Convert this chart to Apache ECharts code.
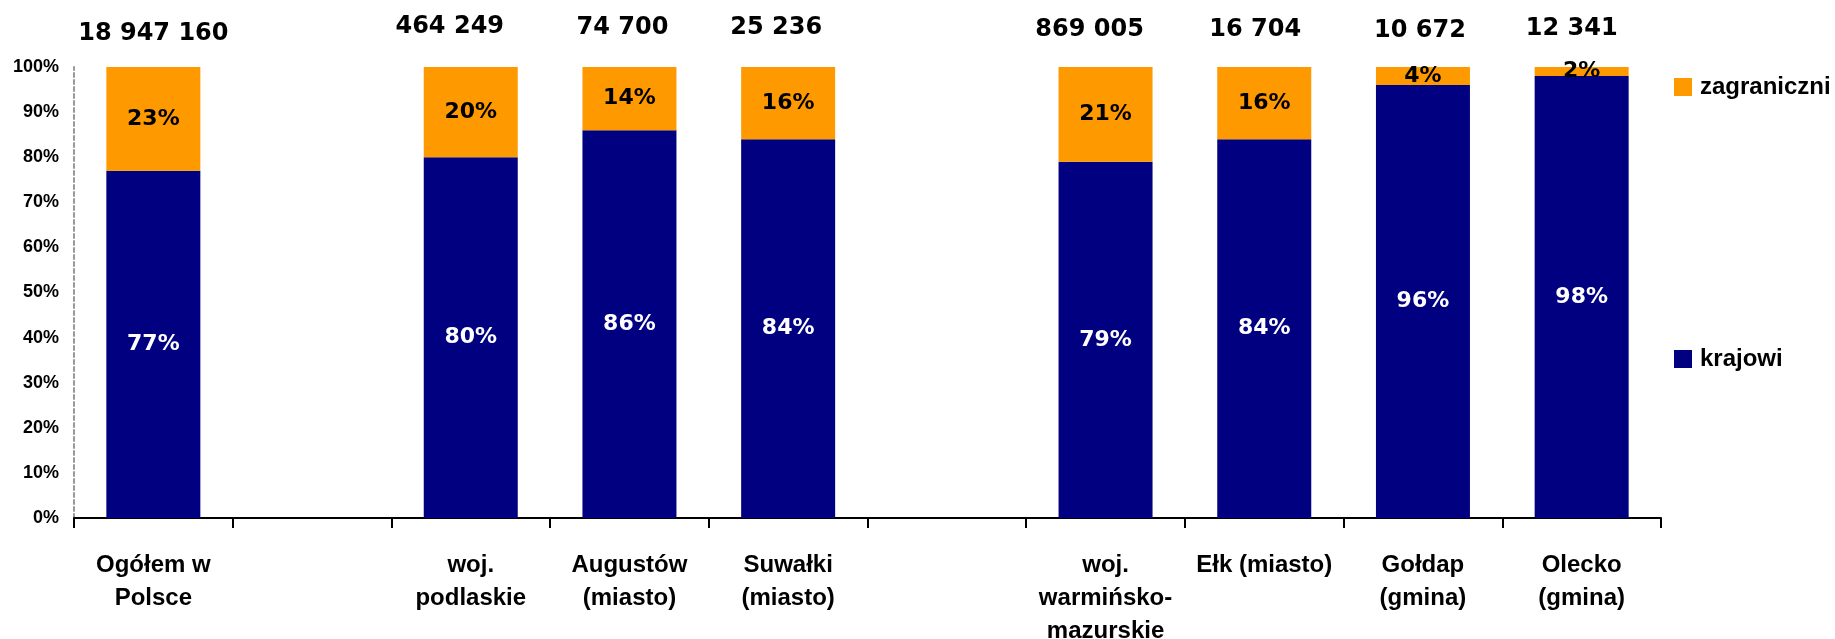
<!DOCTYPE html>
<html>
<head>
<meta charset="utf-8">
<title>Turyści krajowi i zagraniczni</title>
<script src="https://cdn.jsdelivr.net/npm/echarts@6/dist/echarts.min.js"></script>
<style>
  html, body { margin: 0; padding: 0; background: #ffffff; }
  #chart { width: 1835px; height: 639px; }
</style>
</head>
<body>
<div id="chart"></div>
<script>
// Categories (empty names leave a gap between the regional groups)
const categories = [
  'Ogółem w\nPolsce',
  '',
  'woj.\npodlaskie',
  'Augustów\n(miasto)',
  'Suwałki\n(miasto)',
  '',
  'woj.\nwarmińsko-\nmazurskie',
  'Ełk (miasto)',
  'Gołdap\n(gmina)',
  'Olecko\n(gmina)'
];

// Share of domestic and foreign tourists, in percent
const krajowi     = [77, null, 80, 86, 84, null, 79, 84, 96, 98];
const zagraniczni = [23, null, 20, 14, 16, null, 21, 16, 4, 2];

// Total number of tourists shown above each column
const totals = ['18 947 160', '', '464 249', '74 700', '25 236', '', '869 005', '16 704', '10 672', '12 341'];

// Y axis tick values
const yTicks = { min: 0, max: 100, step: 10 };

// Small hand placement of the total captions (x, y in px)
const totalShift = [[0, 4], [0, 0], [-21, -3], [-7, -2], [-12, -2], [0, 0], [-16, 0], [-9, 0], [-3, 1], [-10, -1]];

const NAVY = '#000080';
const ORANGE = '#FF9900';
const numFont = 'DejaVu Sans';
const txtFont = 'Liberation Sans';

const chart = echarts.init(document.getElementById('chart'), null, { renderer: 'canvas' });

const toData = arr => arr.map(v => (v === null ? '-' : v));

const totalsData = totals.map((t, i) => {
  if (!t) return '-';
  return {
    value: 100,
    label: { offset: totalShift[i] }
  };
});

chart.setOption({
  animation: false,
  backgroundColor: '#ffffff',
  grid: {
    left: 74, right: 174, top: 67, bottom: 121,
    containLabel: false,
    outerBoundsMode: 'none'
  },
  legend: {
    orient: 'vertical',
    left: 1669,
    top: 70,
    itemWidth: 18,
    itemHeight: 18,
    itemGap: 248,
    icon: 'rect',
    selectedMode: false,
    data: ['zagraniczni', 'krajowi'],
    textStyle: {
      fontFamily: txtFont,
      fontWeight: 'bold',
      fontSize: 24,
      color: '#000000',
      padding: [0, 0, 0, 3]
    }
  },
  xAxis: {
    type: 'category',
    data: categories,
    boundaryGap: true,
    axisLine: { show: true, lineStyle: { color: '#000000', width: 2 } },
    axisTick: { show: true, interval: 0, length: 10, lineStyle: { color: '#000000', width: 2 } },
    axisLabel: {
      interval: 0,
      margin: 31,
      fontFamily: txtFont,
      fontWeight: 'bold',
      fontSize: 24,
      lineHeight: 33,
      color: '#000000'
    },
    splitLine: { show: false }
  },
  yAxis: {
    type: 'value',
    min: yTicks.min,
    max: yTicks.max,
    interval: yTicks.step,
    axisLine: { show: true, lineStyle: { color: '#999999', width: 2, type: [4, 3] } },
    axisTick: { show: false },
    splitLine: { show: false },
    axisLabel: {
      margin: 15,
      formatter: '{value}%',
      fontFamily: txtFont,
      fontWeight: 'bold',
      fontSize: 18,
      color: '#000000'
    }
  },
  series: [
    {
      name: 'krajowi',
      type: 'bar',
      stack: 'udzial',
      barWidth: 94,
      data: toData(krajowi),
      itemStyle: { color: NAVY },
      label: {
        show: true,
        position: 'inside',
        formatter: '{c}%',
        fontFamily: numFont,
        fontWeight: 'bold',
        fontSize: 22,
        color: '#ffffff'
      }
    },
    {
      name: 'zagraniczni',
      type: 'bar',
      stack: 'udzial',
      barWidth: 94,
      data: toData(zagraniczni),
      itemStyle: { color: ORANGE },
      label: {
        show: true,
        position: 'inside',
        formatter: '{c}%',
        fontFamily: numFont,
        fontWeight: 'bold',
        fontSize: 22,
        color: '#000000'
      }
    },
    {
      name: 'razem',
      type: 'scatter',
      symbolSize: 0,
      silent: true,
      clip: false,
      itemStyle: { opacity: 1 },
      data: totalsData,
      label: {
        show: true,
        position: 'top',
        distance: 25,
        opacity: 1,
        formatter: p => totals[p.dataIndex],
        fontFamily: numFont,
        fontWeight: 'bold',
        fontSize: 24,
        lineHeight: 24,
        color: '#000000'
      }
    }
  ]
});
</script>
</body>
</html>
